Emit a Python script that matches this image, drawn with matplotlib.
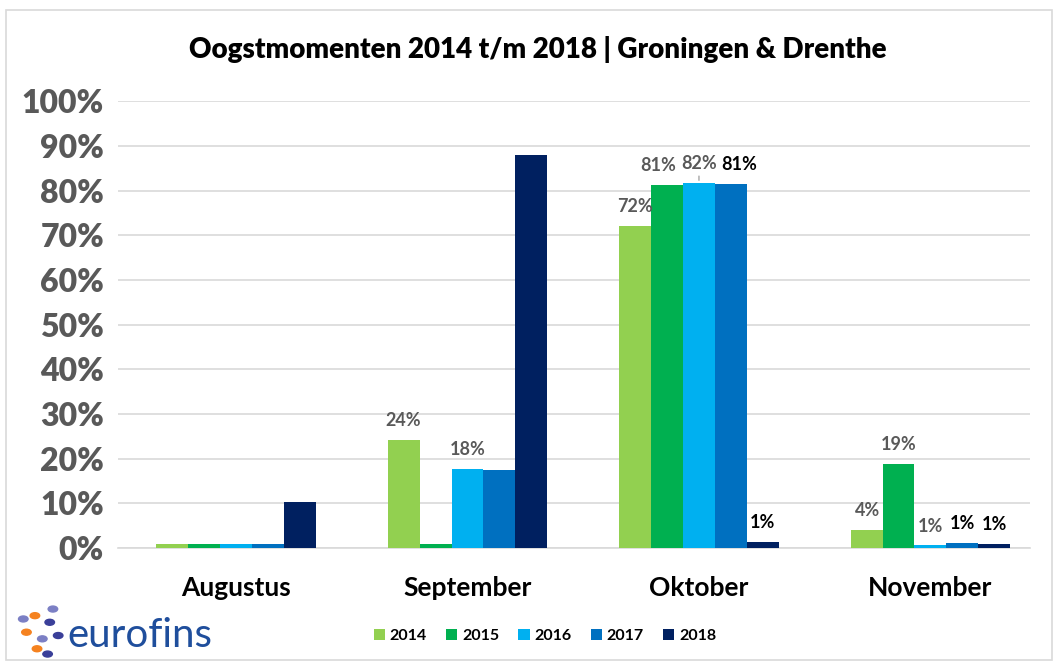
import matplotlib.pyplot as plt
import numpy as np
from matplotlib.patches import Rectangle

maanden = ["Augustus", "September", "Oktober", "November"]
jaren = ["2014", "2015", "2016", "2017", "2018"]
kleuren = ["#92D050", "#00B050", "#00B0F0", "#0070C0", "#002060"]

# aandeel per maand, per jaar (fractie)
v2014 = [0.009, 0.242, 0.720, 0.040]
v2015 = [0.009, 0.009, 0.812, 0.188]
v2016 = [0.009, 0.177, 0.817, 0.006]
v2017 = [0.009, 0.174, 0.814, 0.012]
v2018 = [0.103, 0.880, 0.013, 0.010]
waarden = [v2014, v2015, v2016, v2017, v2018]

# welke balken een label krijgen: (maand, jaar, kleur, dx in punten)
labels = [
    (1, 0, "#595959", 0), (1, 2, "#595959", 0),
    (2, 0, "#595959", 0), (2, 1, "#595959", -6), (2, 2, "#595959", 0),
    (2, 3, "#000000", 6), (2, 4, "#000000", 0),
    (3, 0, "#595959", 1), (3, 1, "#595959", 0), (3, 2, "#595959", 0),
    (3, 3, "#000000", 0), (3, 4, "#000000", 0),
]

plt.rcParams['font.family'] = ['Lato', 'DejaVu Sans']

fig = plt.figure(figsize=(10.58, 6.62), dpi=100)
ax = fig.add_axes([0.1115, 0.172, 0.862, 0.675])

x = np.arange(len(maanden))
breedte = 0.138
for i, jaar in enumerate(jaren):
    ax.bar(x + (i - 2) * breedte, waarden[i], breedte, color=kleuren[i], label=jaar, zorder=3)

for m, j, kl, dx in labels:
    v = waarden[j][m]
    xp = m + (j - 2) * breedte
    ax.annotate(f"{round(v * 100)}%", (xp, v), xytext=(dx, 14), textcoords="offset points",
                ha="center", va="center", fontsize=13, fontweight="bold", color=kl)
# leader line for 2016 oktober
ax.annotate("", (2, waarden[2][2]), xytext=(0, 7), textcoords="offset points",
            arrowprops=dict(arrowstyle="-", color="#A6A6A6", lw=1))

ax.set_ylim(0, 1.0)
ax.set_xlim(-0.51, 3.43)
ax.set_yticks(np.arange(0, 1.01, 0.1))
ax.set_yticklabels([f"{int(round(t * 100))}%" for t in np.arange(0, 1.01, 0.1)],
                   fontsize=23, fontweight="heavy", color="#595959")
ax.set_xticks(x)
ax.set_xticklabels(maanden, fontsize=19, fontweight="bold", color="black")
ax.tick_params(axis="both", length=0)
ax.tick_params(axis="x", pad=20)
ax.tick_params(axis="y", pad=10)
ax.grid(axis="y", color="#D9D9D9", lw=1.2, zorder=0)
for s in ["top", "right", "left"]:
    ax.spines[s].set_visible(False)
ax.spines["bottom"].set_color("#D9D9D9")
ax.spines["bottom"].set_linewidth(1.2)

fig.text(0.508, 0.925, "Oogstmomenten 2014 t/m 2018 | Groningen & Drenthe",
         ha="center", va="center", fontsize=20, fontweight="heavy")

ax.legend(loc="center", bbox_to_anchor=(0.515, 0.039), bbox_transform=fig.transFigure,
          ncol=5, frameon=False, handlelength=0.7, handleheight=0.7, handletextpad=0.3,
          columnspacing=1.2, prop={"weight": "bold", "size": 11.5})

# eurofins logo
dots = [(0.025, 0.045, "#F58220"), (0.033, 0.07, "#F58220"), (0.04, 0.035, "#7B7FC4"),
        (0.047, 0.06, "#3A3F99"), (0.035, 0.02, "#F58220"), (0.05, 0.08, "#7B7FC4"),
        (0.055, 0.04, "#3A3F99"), (0.022, 0.065, "#7B7FC4"), (0.045, 0.012, "#3A3F99")]
for dxp, dyp, c in dots:
    fig.patches.append(plt.Circle((dxp, dyp), 0.0045, transform=fig.transFigure,
                                  color=c, figure=fig))
fig.text(0.064, 0.04, "eurofins", fontsize=29, color="#1F4E9C", va="center", ha="left")

fig.patches.append(Rectangle((0.006, 0.003), 0.988, 0.982, transform=fig.transFigure,
                             fill=False, edgecolor="#D9D9D9", lw=1.2, figure=fig))

fig.savefig("out.png", dpi=100)
